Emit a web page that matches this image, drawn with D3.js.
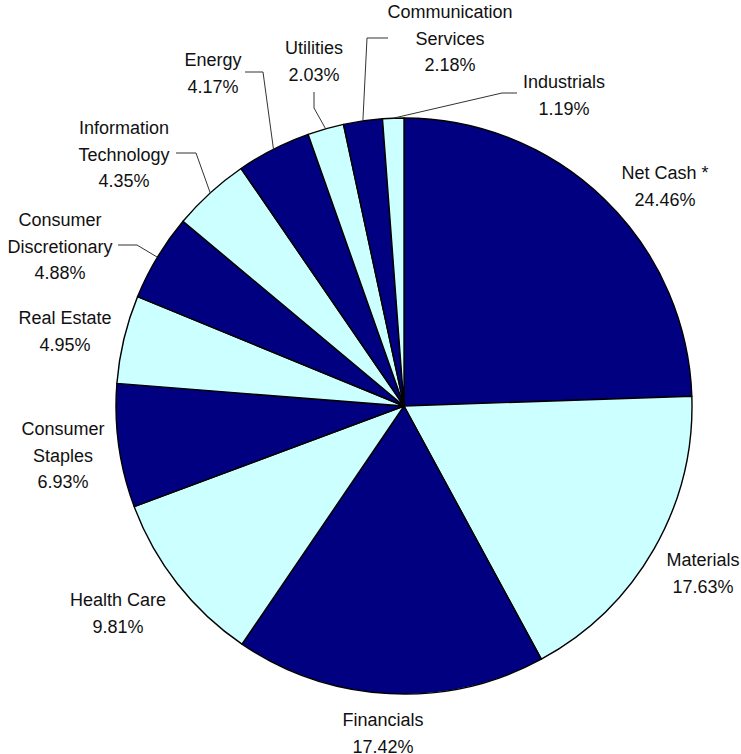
<!DOCTYPE html>
<html>
<head>
<meta charset="utf-8">
<script src="https://cdn.jsdelivr.net/npm/d3@7"></script>
<style>
  html, body { margin: 0; padding: 0; background: #fff; }
  svg { display: block; font-family: "Liberation Sans", Arial, sans-serif; }
</style>
</head>
<body>
<div class="chart"><svg></svg></div>
<script>
"use strict";

const WIDTH = 741;
const HEIGHT = 754;

// sector weights, clockwise from 12 o'clock
const sectors = ['Net Cash *','Materials','Financials','Health Care','Consumer Staples','Real Estate',
  'Consumer Discretionary','Information Technology','Energy','Utilities','Communication Services','Industrials'];
const weights = [24.46, 17.63, 17.42, 9.81, 6.93, 4.95, 4.88, 4.35, 4.17, 2.03, 2.18, 1.19];
const labelLines = [
  ['Net Cash *'], ['Materials'], ['Financials'], ['Health Care'], ['Consumer','Staples'], ['Real Estate'],
  ['Consumer','Discretionary'], ['Information','Technology'], ['Energy'], ['Utilities'],
  ['Communication','Services'], ['Industrials']
];

// label layout (center x, first line y) and optional leader start/elbow
const layout = [
  {x: 665, y: 173},
  {x: 703, y: 560},
  {x: 383, y: 720},
  {x: 118, y: 600},
  {x: 63,  y: 429},
  {x: 65,  y: 318},
  {x: 60,  y: 220, lead: [118, 245, 137, 245]},
  {x: 124, y: 128, lead: [176, 153, 196, 153]},
  {x: 213, y: 60,  lead: [245, 72, 263, 72]},
  {x: 314, y: 48,  lead: [314, 92, 314, 108]},
  {x: 450, y: 12,  lead: [388, 38, 367, 38]},
  {x: 564, y: 82,  lead: [517, 93, 502, 93]}
];

const CX = 404, CY = 406, R = 288;
const LINE_H = 26.5;
const colors = ['#000080', '#CCFFFF'];

const data = sectors.map((s, i) => ({name: s, value: weights[i], lines: labelLines[i], pos: layout[i], idx: i}));

const svg = d3.select('svg')
  .attr('width', WIDTH)
  .attr('height', HEIGHT);

const pie = d3.pie().sort(null).value(d => d.value);
const arc = d3.arc().innerRadius(0).outerRadius(R);
const arcs = pie(data);

const gPie = svg.append('g').attr('transform', `translate(${CX},${CY})`);
gPie.selectAll('path')
  .data(arcs)
  .join('path')
  .attr('d', arc)
  .attr('fill', d => colors[d.data.idx % 2])
  .attr('stroke', '#000')
  .attr('stroke-width', 1.4)
  .attr('stroke-linejoin', 'round');

// leader lines
const gLead = svg.append('g');
gLead.selectAll('polyline')
  .data(arcs.filter(d => d.data.pos.lead))
  .join('polyline')
  .attr('points', d => {
    const a = (d.startAngle + d.endAngle) / 2;
    const px = CX + R * Math.sin(a);
    const py = CY - R * Math.cos(a);
    const l = d.data.pos.lead;
    return `${l[0]},${l[1]} ${l[2]},${l[3]} ${px},${py}`;
  })
  .attr('fill', 'none')
  .attr('stroke', '#333')
  .attr('stroke-width', 1);

// labels
const gText = svg.append('g');
const txt = gText.selectAll('text')
  .data(data)
  .join('text')
  .attr('text-anchor', 'middle')
  .attr('font-size', 18)
  .attr('fill', '#111');

txt.each(function(d) {
  const t = d3.select(this);
  const rows = d.lines.concat([d.value.toFixed(2) + '%']);
  rows.forEach((r, k) => {
    t.append('tspan')
      .attr('x', d.pos.x)
      .attr('y', d.pos.y + k * LINE_H)
      .attr('dy', '0.35em')
      .text(r);
  });
});
</script>
</body>
</html>
